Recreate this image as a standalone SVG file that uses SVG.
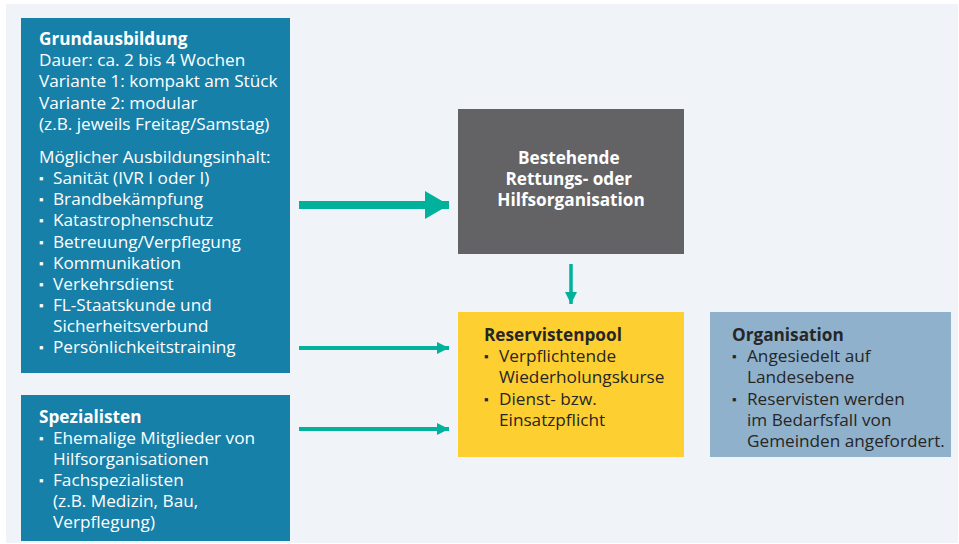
<svg xmlns="http://www.w3.org/2000/svg" width="959" height="544" viewBox="0 0 959 544">
<style>
.t{font-family:"Open Sans","Liberation Sans",sans-serif;font-size:17.2px;}
.w{fill:#ffffff;}
.d{fill:#262626;}
.b{font-weight:bold;}
.blue{fill:#1680a9;}
.bul{font-size:13px;}
.conn{stroke:#00b29b;fill:none;}
</style>
<defs>
<marker id="ah" markerUnits="userSpaceOnUse" markerWidth="12" markerHeight="12" refX="12" refY="6" orient="auto" viewBox="0 0 12 12">
<path d="M0,0 L12,6 L0,12 Z" fill="#00b29b"/>
</marker>
<marker id="ahb" markerUnits="userSpaceOnUse" markerWidth="24" markerHeight="28" refX="24" refY="14" orient="auto" viewBox="0 0 24 28">
<path d="M0,0 L24,14 L0,28 Z" fill="#00b29b"/>
</marker>
</defs>
<rect x="0" y="0" width="959" height="544" fill="#ffffff"/>
<rect x="6" y="4" width="952" height="539" fill="#f0f4f8"/>

<g id="grundausbildung">
<rect x="21" y="18" width="269" height="355" class="blue"/>
<text class="t w" x="39">
<tspan x="39" y="45" class="b">Grundausbildung</tspan>
<tspan x="39" y="66">Dauer: ca. 2 bis 4 Wochen</tspan>
<tspan x="39" y="87">Variante 1: kompakt am Stück</tspan>
<tspan x="39" y="109">Variante 2: modular</tspan>
<tspan x="39" y="130">(z.B. jeweils Freitag/Samstag)</tspan>
<tspan x="39" y="163">Möglicher Ausbildungsinhalt:</tspan>
</text>
<text class="t w">
<tspan x="39" y="183" class="bul">▪</tspan><tspan x="53" y="184">Sanität (IVR I oder I)</tspan>
<tspan x="39" y="204.2" class="bul">▪</tspan><tspan x="53" y="205.2">Brandbekämpfung</tspan>
<tspan x="39" y="225.3" class="bul">▪</tspan><tspan x="53" y="226.3">Katastrophenschutz</tspan>
<tspan x="39" y="246.5" class="bul">▪</tspan><tspan x="53" y="247.5">Betreuung/Verpflegung</tspan>
<tspan x="39" y="267.7" class="bul">▪</tspan><tspan x="53" y="268.7">Kommunikation</tspan>
<tspan x="39" y="288.8" class="bul">▪</tspan><tspan x="53" y="289.8">Verkehrsdienst</tspan>
<tspan x="39" y="310" class="bul">▪</tspan><tspan x="53" y="311">FL-Staatskunde und</tspan>
<tspan x="53" y="332.1">Sicherheitsverbund</tspan>
<tspan x="39" y="352.3" class="bul">▪</tspan><tspan x="53" y="353.3">Persönlichkeitstraining</tspan>
</text>
</g>

<g id="spezialisten">
<rect x="21" y="395" width="269" height="146" class="blue"/>
<text class="t w">
<tspan x="39" y="423" class="b">Spezialisten</tspan>
<tspan x="39" y="443" class="bul">▪</tspan><tspan x="53" y="444">Ehemalige Mitglieder von</tspan>
<tspan x="53" y="465">Hilfsorganisationen</tspan>
<tspan x="39" y="485" class="bul">▪</tspan><tspan x="53" y="486">Fachspezialisten</tspan>
<tspan x="53" y="507">(z.B. Medizin, Bau,</tspan>
<tspan x="53" y="528">Verpflegung)</tspan>
</text>
</g>

<g id="organisation-bestehend">
<rect x="458" y="109" width="226" height="145" fill="#636366"/>
<text class="t w b" text-anchor="middle">
<tspan x="571" y="164">Bestehende</tspan>
<tspan x="571" y="185">Rettungs- oder</tspan>
<tspan x="571" y="206">Hilfsorganisation</tspan>
</text>
</g>

<g id="reservistenpool">
<rect x="458" y="312" width="226" height="145" fill="#fecf30"/>
<text class="t d">
<tspan x="484" y="341" class="b">Reservistenpool</tspan>
<tspan x="484" y="361" class="bul">▪</tspan><tspan x="499" y="362">Verpflichtende</tspan>
<tspan x="499" y="383">Wiederholungskurse</tspan>
<tspan x="484" y="404" class="bul">▪</tspan><tspan x="499" y="405">Dienst- bzw.</tspan>
<tspan x="499" y="426">Einsatzpflicht</tspan>
</text>
</g>

<g id="organisation">
<rect x="710" y="312" width="241" height="145" fill="#8fb1cc"/>
<text class="t d">
<tspan x="732" y="341" class="b">Organisation</tspan>
<tspan x="732" y="361" class="bul">▪</tspan><tspan x="747" y="362">Angesiedelt auf</tspan>
<tspan x="747" y="383">Landesebene</tspan>
<tspan x="732" y="404" class="bul">▪</tspan><tspan x="747" y="405">Reservisten werden</tspan>
<tspan x="747" y="426">im Bedarfsfall von</tspan>
<tspan x="747" y="447">Gemeinden angefordert.</tspan>
</text>
</g>

<g id="connectors">
<line class="conn" x1="299" y1="205" x2="449" y2="205" stroke-width="8" marker-end="url(#ahb)"/>
<line class="conn" x1="299" y1="348" x2="449" y2="348" stroke-width="4" marker-end="url(#ah)"/>
<line class="conn" x1="299" y1="429" x2="449" y2="429" stroke-width="4" marker-end="url(#ah)"/>
<line class="conn" x1="571" y1="264" x2="571" y2="304" stroke-width="3.5" marker-end="url(#ah)"/>
</g>
</svg>
